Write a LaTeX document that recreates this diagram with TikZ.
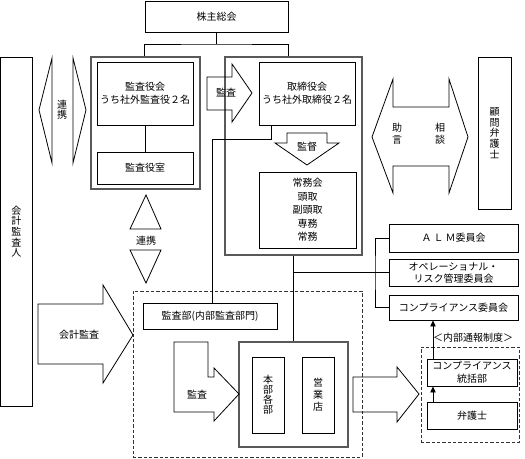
\documentclass[tikz,border=0pt]{standalone}
\usepackage{fontspec}
\setmainfont{Noto Sans CJK JP}
\usetikzlibrary{arrows.meta}

\tikzset{every picture/.style={line width=0.6pt}}
\tikzset{
  box/.style={draw, inner sep=0.75pt, align=center, font=\fontsize{7.5}{10}\selectfont},
  vbox/.style={box, font=\fontsize{7.5}{8}\selectfont},
  groupbox/.style={draw=black!65, line width=0.8pt, inner sep=0pt},
  dashbox/.style={draw=black!80, dash pattern={on 2.5pt off 1.5pt}, inner sep=0pt},
  txt/.style={inner sep=0.75pt, align=center, font=\fontsize{7.5}{10}\selectfont},
  vtxt/.style={txt, font=\fontsize{7.5}{8}\selectfont},
  tip/.style={-{Triangle[length=4.5pt,width=4pt]}},
}

\begin{document}
\begin{tikzpicture}[x=0.75pt,y=0.75pt,yscale=-1,xscale=1]
\useasboundingbox (0,0) rectangle (525,458);

% boxes
\node [box, minimum width=107.25pt, minimum height=23.25pt] (kabu) at (216.5,16.5) {株主総会};
\node [vbox, minimum width=23.6pt, minimum height=261.75pt] (kaikei) at (16.25,231.5) {会\\計\\監\\査\\人};

\node [groupbox, minimum width=81.75pt, minimum height=99pt] (kgroup) at (145.5,123) {};
\node [box, minimum width=72pt, minimum height=47.25pt] (kansayakukai) at (145,93.5) {監査役会\\うち社外監査役２名};
\node [box, minimum width=72pt, minimum height=24pt] (shitsu) at (145,168) {監査役室};

\node [groupbox, minimum width=102.75pt, minimum height=148.5pt] (tgroup) at (293.5,156) {};
\node [box, minimum width=72pt, minimum height=47.25pt] (torishimari) at (307,93.5) {取締役会\\うち社外取締役２名};
\node [box, minimum width=72.75pt, minimum height=57pt, font=\fontsize{7.5}{10.1}\selectfont] (jomu) at (307.5,210) {常務会\\頭取\\副頭取\\専務\\常務};

\node [vbox, minimum width=24.75pt, minimum height=114pt] (komon) at (494.5,133) {顧\\問\\弁\\護\\士};

\node [box, minimum width=96.75pt, minimum height=21pt] (alm) at (453.5,238) {Ａ\hspace{1.5pt}Ｌ\hspace{1.5pt}Ｍ委員会};
\node [box, minimum width=96.75pt, minimum height=20.25pt, font=\fontsize{7.5}{9}\selectfont] (opr) at (453.5,272.5) {オペレーショナル・\\リスク管理委員会};
\node [box, minimum width=96.75pt, minimum height=18.75pt] (comp) at (453.5,307.5) {コンプライアンス委員会};

\node [txt] (tsuuhou) at (473,338) {＜内部通報制度＞};
\node [dashbox, minimum width=73.5pt, minimum height=71.25pt] (naibu) at (470,394.5) {};
\node [box, minimum width=67.5pt, minimum height=20.25pt, font=\fontsize{7.5}{9.5}\selectfont] (tokatsu) at (472,372.5) {コンプライアンス\\統括部};
\node [box, minimum width=67.5pt, minimum height=20.25pt] (bengoshi) at (472,415.5) {弁護士};

\node [dashbox, minimum width=171.75pt, minimum height=124.5pt] (kansaarea) at (247.5,374) {};
\node [box, minimum width=100.5pt, minimum height=19.5pt] (kansabu) at (210,316) {監査部(内部監査部門)};
\node [groupbox, minimum width=81.75pt, minimum height=78.75pt] (bgroup) at (293.5,394.5) {};
\node [vbox, minimum width=24pt, minimum height=57pt, font=\fontsize{7.5}{7.6}\selectfont] (honbu) at (268,395) {本\\部\\各\\部};
\node [vbox, minimum width=24pt, minimum height=57pt, font=\fontsize{7.5}{9}\selectfont] (eigyo) at (318,395) {営\\業\\店};

% connectors
\coordinate (fork) at (216.5,44);
\draw (kabu) -- (fork);
\draw (kabu.west |- kgroup.north) |- (fork) -| (kabu.east |- tgroup.north);
\draw (kansayakukai) -- (shitsu);
\coordinate (bend) at (212,139);
\draw ([xshift=9.75pt]torishimari.south west) |- (bend) -- (bend |- kansabu.north);
\draw (tgroup.south) -- (bgroup.north);
\draw (tgroup.south |- opr.west) -- (opr.west);
\coordinate (cbus) at (375,238);
\draw (alm.west) -| (cbus |- opr.west) |- (comp.west);
\coordinate (tap) at (433,340);
\draw [tip] (tap |- tokatsu.north) -- (tap |- comp.south);
\draw [tip] (tap |- bengoshi.north) -- (tap |- tokatsu.south);

% arrows
\draw (52,58) -- (39,110) -- (52,163) -- cycle;
\draw (73,58) -- (86,110) -- (73,163) -- cycle;
\node [vtxt, font=\fontsize{7.5}{7.6}\selectfont] (renkei1) at (62,110) {連\\携};

\draw (207,77) -- (232,77) -- (232,64) -- (252,93) -- (232,122) -- (232,110) -- (207,110) -- cycle;
\node [txt] (kansa1) at (226,93) {監査};

\draw (287,133) -- (327,133) -- (327,143) -- (339,143) -- (307,165) -- (275,143) -- (287,143) -- cycle;
\node [txt] (kantoku) at (307,147) {監督};

\draw (393,107) -- (449,107) -- (449,79) -- (468,137) -- (449,193) -- (449,166) -- (393,166) -- (393,193) -- (372,137) -- (393,79) -- cycle;
\node [vtxt, font=\fontsize{7.5}{9}\selectfont] (jogen) at (397,134) {助\\言};
\node [vtxt, font=\fontsize{7.5}{9}\selectfont] (soudan) at (440,134) {相\\談};

\draw (146,195) -- (161,229) -- (130,229) -- cycle;
\draw (130,250) -- (161,250) -- (146,283) -- cycle;
\node [txt] (renkei2) at (146,241) {連携};

\draw (38,304) -- (103,304) -- (103,285) -- (133,335) -- (103,383) -- (103,364) -- (38,364) -- cycle;
\node [txt] (kaikeikansa) at (79,335) {会計監査};

\draw (174,342) -- (208,342) -- (208,377) -- (214,377) -- (214,368) -- (239,394) -- (214,421) -- (214,412) -- (174,412) -- cycle;
\node [txt] (kansa2) at (197,395) {監査};

\draw (353,377) -- (397,377) -- (397,367) -- (419,394) -- (397,422) -- (397,412) -- (353,412) -- cycle;

\end{tikzpicture}
\end{document}
